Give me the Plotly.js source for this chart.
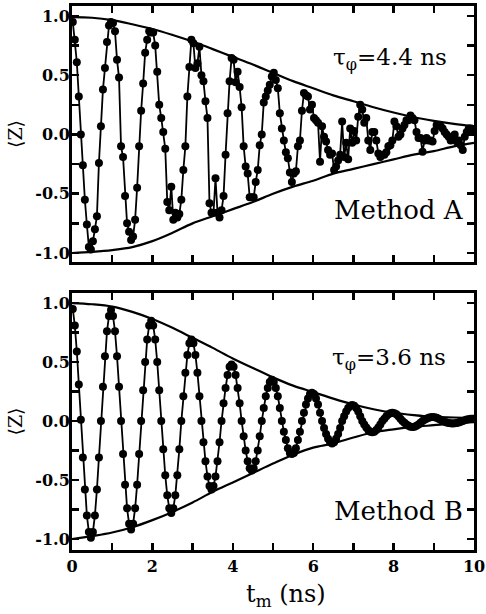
<!DOCTYPE html>
<html>
<head>
<meta charset="utf-8">
<script src="https://cdn.plot.ly/plotly-3.0.1.min.js"></script>
<style>html,body{margin:0;padding:0;background:#fff;}#chart{width:486px;height:614px;}</style>
</head>
<body>
<div id="chart"></div>
<script>
// sampling of the measured points (ns)
const T_START = 0.02;
const T_STEP = 0.05;

// Method A, <Z> values (top panel)
const methodA = [
 0.95, 0.80, 0.61, 0.32, 0.00, -0.26, -0.55, -0.76, -0.95, -0.97, -0.90, -0.80, -0.69, -0.24, 0.07, 0.38, 0.56, 0.78, 0.92, 0.95,
 0.94, 0.87, 0.63, 0.48, -0.10, -0.19, -0.52, -0.75, -0.82, -0.89, -0.86, -0.72, -0.45, -0.10, 0.20, 0.43, 0.69, 0.80, 0.87, 0.86,
 0.86, 0.75, 0.53, 0.25, 0.14, 0.02, -0.12, -0.57, -0.64, -0.44, -0.72, -0.66, -0.70, -0.67, -0.55, -0.30, -0.10, 0.32, 0.57, 0.80,
 0.77, 0.56, 0.60, 0.74, 0.50, 0.45, 0.28, 0.14, -0.58, -0.66, -0.66, -0.37, -0.66, -0.70, -0.64, -0.52, -0.17, 0.18, 0.45, 0.645,
 0.63, 0.44, 0.53, 0.40, 0.23, -0.10, -0.27, -0.33, -0.53, -0.53, -0.53, -0.40, -0.30, -0.09, 0.00, 0.27, 0.32, 0.37, 0.42, 0.49,
 0.52, 0.46, 0.39, 0.18, 0.05, -0.05, -0.15, -0.20, -0.32, -0.40, -0.33, -0.31, -0.10, -0.05, 0.20, 0.35, 0.33, 0.32, 0.21, 0.25,
 0.14, 0.12, 0.10, -0.23, 0.07, -0.02, -0.06, -0.13, -0.17, -0.16, -0.30, -0.27, -0.22, -0.17, 0.11, -0.19, -0.07, -0.21, 0.05, -0.07,
 0.03, -0.05, 0.15, 0.25, 0.21, 0.10, 0.14, -0.05, -0.13, 0.02, 0.02, -0.05, -0.16, -0.19, -0.17, -0.17, -0.15, -0.10, -0.09, -0.05,
 0.11, 0.07, -0.02, 0.00, 0.05, 0.08, 0.12, 0.12, 0.16, 0.14, 0.12, 0.02, -0.03, -0.03, -0.145, -0.05, -0.03, -0.05, -0.05, -0.06,
 0.03, 0.08, 0.08, 0.07, 0.05, 0.02, 0.00, -0.02, -0.05, -0.03, 0.00, -0.06, -0.05, -0.09, -0.13, -0.02, 0.02, 0.05, 0.05, 0.04
];

// Method B, <Z> values (bottom panel)
const methodB = [
 0.95, 0.81, 0.59, 0.31, 0.01, -0.31, -0.58, -0.80, -0.94, -0.99, -0.94, -0.80, -0.58, -0.31, 0.00, 0.29, 0.55, 0.76, 0.89, 0.94,
 0.89, 0.76, 0.55, 0.29, 0.00, -0.28, -0.54, -0.74, -0.87, -0.92, -0.87, -0.74, -0.54, -0.28, 0.00, 0.26, 0.50, 0.69, 0.81, 0.85,
 0.81, 0.69, 0.50, 0.26, 0.00, -0.24, -0.46, -0.63, -0.74, -0.78, -0.74, -0.63, -0.46, -0.24, 0.00, 0.21, 0.41, 0.56, 0.66, 0.69,
 0.66, 0.56, 0.41, 0.21, 0.00, -0.18, -0.34, -0.47, -0.55, -0.58, -0.55, -0.47, -0.34, -0.18, 0.00, 0.15, 0.28, 0.39, 0.46, 0.48,
 0.46, 0.39, 0.28, 0.15, 0.00, -0.13, -0.25, -0.34, -0.40, -0.42, -0.40, -0.34, -0.25, -0.13, 0.00, 0.11, 0.21, 0.28, 0.33, 0.35,
 0.33, 0.28, 0.21, 0.11, 0.00, -0.09, -0.16, -0.23, -0.27, -0.28, -0.27, -0.23, -0.16, -0.09, 0.00, 0.07, 0.14, 0.19, 0.23, 0.24,
 0.23, 0.19, 0.14, 0.07, 0.00, -0.06, -0.11, -0.15, -0.18, -0.19, -0.18, -0.15, -0.11, -0.06, 0.00, 0.04, 0.08, 0.11, 0.13, 0.135,
 0.13, 0.11, 0.08, 0.04, 0.00, -0.03, -0.055, -0.075, -0.09, -0.095, -0.09, -0.075, -0.055, -0.03, 0.00, 0.02, 0.04, 0.057, 0.067, 0.07,
 0.067, 0.057, 0.04, 0.02, 0.00, -0.015, -0.03, -0.04, -0.048, -0.05, -0.048, -0.04, -0.03, -0.015, 0.00, 0.011, 0.02, 0.028, 0.033, 0.035,
 0.033, 0.028, 0.02, 0.011, 0.00, -0.006, -0.012, -0.016, -0.019, -0.02, -0.019, -0.016, -0.012, -0.006, 0.00, 0.006, 0.012, 0.016, 0.019, 0.02
];

// envelope curves read at these times
const envT = [0,0.5,1,1.5,2,2.5,3,3.5,4,4.5,5,5.5,6,6.5,7,7.5,8,8.5,9,9.5,10];
const envA_up = [0.99,0.985,0.965,0.93,0.89,0.84,0.785,0.72,0.655,0.59,0.52,0.45,0.39,0.33,0.28,0.23,0.185,0.145,0.115,0.09,0.07];
const envA_lo = [-1.0,-0.99,-0.975,-0.95,-0.90,-0.83,-0.75,-0.69,-0.63,-0.57,-0.50,-0.44,-0.39,-0.33,-0.29,-0.25,-0.21,-0.17,-0.14,-0.10,-0.07];
const envB_up = [1.0,0.99,0.97,0.925,0.865,0.79,0.705,0.62,0.53,0.45,0.37,0.30,0.245,0.19,0.14,0.10,0.07,0.05,0.035,0.03,0.025];
const envB_lo = [-1.0,-0.975,-0.945,-0.90,-0.84,-0.77,-0.69,-0.60,-0.52,-0.44,-0.36,-0.285,-0.225,-0.19,-0.14,-0.095,-0.07,-0.05,-0.035,-0.02,-0.01];

// tick labels (major, labelled) — minor ticks fall every 1 ns and every 0.25
const xTickVals = [0,2,4,6,8,10];
const xTickText = ["0","2","4","6","8","10"];
const yTickVals = [-1,-0.5,0,0.5,1];
const yTickText = ["-1.0","-0.5","0.0","0.5","1.0"];
const X_MINOR = 1;
const Y_MINOR = 0.25;

const labelA = "τ<sub>φ</sub>=4.4 ns";
const labelB = "τ<sub>φ</sub>=3.6 ns";
const methodNameA = "Method A";
const methodNameB = "Method B";
const xTitle = "t<sub>m</sub> (ns)";
const yTitle = "⟨Z⟩";

const SERIF = "DejaVu Serif";

function dataTrace(vals, xa, ya) {
  return {
    type: 'scatter', mode: 'lines+markers',
    x0: T_START, dx: T_STEP, y: vals,
    xaxis: xa, yaxis: ya,
    line: {color: '#000', width: 1.8},
    marker: {color: '#000', size: 8, symbol: 'circle'},
    showlegend: false, hoverinfo: 'skip'
  };
}
function envTrace(vals, xa, ya) {
  return {
    type: 'scatter', mode: 'lines', x: envT, y: vals,
    xaxis: xa, yaxis: ya,
    line: {color: '#000', width: 2.2, shape: 'spline', smoothing: 1},
    showlegend: false, hoverinfo: 'skip'
  };
}

const traces = [
  envTrace(envA_up, 'x', 'y'), envTrace(envA_lo, 'x', 'y'),
  dataTrace(methodA, 'x', 'y'),
  envTrace(envB_up, 'x2', 'y2'), envTrace(envB_lo, 'x2', 'y2'),
  dataTrace(methodB, 'x2', 'y2')
];

function minorTicks(step) {
  return {tickmode: 'linear', tick0: 0, dtick: step, ticks: 'inside', ticklen: 7, tickwidth: 2.5, tickcolor: '#000', showgrid: false};
}
const axisCommon = {
  showgrid: false, zeroline: false,
  showline: true, linecolor: '#000', linewidth: 3, mirror: 'ticks',
  ticks: 'inside', ticklen: 7, tickwidth: 2.5, tickcolor: '#000',
  tickmode: 'array', ticklabeloverflow: 'allow'
};
const tickFont = {family: SERIF, size: 16, color: '#000', weight: 700};
const zFont = {family: SERIF, size: 19, color: '#000'};
const textFont = {family: SERIF, size: 23, color: '#000'};
const methodFont = {family: SERIF, size: 26, color: '#000'};

const layout = {
  width: 486, height: 614,
  margin: {l: 72, r: 12, t: 6, b: 64},
  paper_bgcolor: '#fff', plot_bgcolor: '#fff',
  font: {family: SERIF, color: '#000', size: 14},
  xaxis: Object.assign({}, axisCommon, {
    domain: [0, 1], range: [0, 10], anchor: 'y',
    tickvals: xTickVals, ticktext: xTickText, showticklabels: false,
    minor: minorTicks(X_MINOR)
  }),
  yaxis: Object.assign({}, axisCommon, {
    domain: [0.5294, 1], range: [-1.076, 1.084], anchor: 'x',
    tickvals: yTickVals, ticktext: yTickText, tickfont: tickFont, ticklabelstandoff: -4,
    minor: minorTicks(Y_MINOR),
    title: {text: yTitle, font: zFont, standoff: 8}
  }),
  xaxis2: Object.assign({}, axisCommon, {
    domain: [0, 1], range: [0, 10], anchor: 'y2',
    tickvals: xTickVals, ticktext: xTickText, tickfont: tickFont,
    minor: minorTicks(X_MINOR)
  }),
  yaxis2: Object.assign({}, axisCommon, {
    domain: [0, 0.4724], range: [-1.093, 1.085], anchor: 'x2',
    tickvals: yTickVals, ticktext: yTickText, tickfont: tickFont, ticklabelstandoff: -4,
    minor: minorTicks(Y_MINOR),
    title: {text: yTitle, font: zFont, standoff: 8}
  }),
  annotations: [
    {xref: 'x', yref: 'y', x: 6.44, y: 0.64, xanchor: 'left', yanchor: 'middle', text: labelA, showarrow: false, font: textFont},
    {xref: 'x', yref: 'y', x: 6.46, y: -0.64, xanchor: 'left', yanchor: 'middle', text: methodNameA, showarrow: false, font: methodFont},
    {xref: 'x2', yref: 'y2', x: 6.41, y: 0.53, xanchor: 'left', yanchor: 'middle', text: labelB, showarrow: false, font: textFont},
    {xref: 'x2', yref: 'y2', x: 6.46, y: -0.76, xanchor: 'left', yanchor: 'middle', text: methodNameB, showarrow: false, font: methodFont},
    {xref: 'paper', yref: 'paper', x: 0.532, y: -0.083, xanchor: 'center', yanchor: 'middle', text: xTitle, showarrow: false, font: {family: SERIF, size: 24, color: '#000'}}
  ]
};

Plotly.newPlot('chart', traces, layout, {displayModeBar: false, staticPlot: true});
</script>
</body>
</html>
